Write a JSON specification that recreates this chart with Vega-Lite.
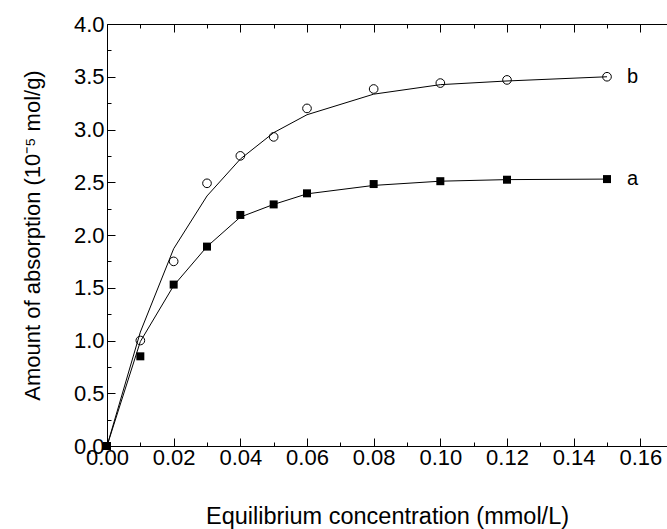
{
  "$schema": "https://vega.github.io/schema/vega-lite/v6.json",
  "width": 560,
  "height": 422,
  "autosize": {"type": "none"},
  "padding": {"left": 107, "top": 24, "right": 0, "bottom": 83},
  "background": "white",
  "config": {
    "view": {"stroke": null},
    "font": "Liberation Sans",
    "axis": {
      "grid": false,
      "domainColor": "black",
      "domainWidth": 1,
      "tickColor": "black",
      "tickWidth": 1,
      "labelColor": "black",
      "labelFont": "Liberation Sans",
      "labelFontSize": 22,
      "titleColor": "black",
      "titleFont": "Liberation Sans",
      "titleFontSize": 22,
      "titleFontWeight": "normal"
    }
  },
  "datasets": {
    "fit": [
      {"series": "a", "c": 0, "q": 0},
      {"series": "a", "c": 0.01, "q": 0.99},
      {"series": "a", "c": 0.02, "q": 1.52},
      {"series": "a", "c": 0.03, "q": 1.89},
      {"series": "a", "c": 0.04, "q": 2.17},
      {"series": "a", "c": 0.05, "q": 2.29},
      {"series": "a", "c": 0.06, "q": 2.39},
      {"series": "a", "c": 0.08, "q": 2.47},
      {"series": "a", "c": 0.1, "q": 2.51},
      {"series": "a", "c": 0.12, "q": 2.525},
      {"series": "a", "c": 0.15, "q": 2.53},
      {"series": "b", "c": 0, "q": 0},
      {"series": "b", "c": 0.01, "q": 1.08},
      {"series": "b", "c": 0.02, "q": 1.87},
      {"series": "b", "c": 0.03, "q": 2.37},
      {"series": "b", "c": 0.04, "q": 2.72},
      {"series": "b", "c": 0.05, "q": 2.97},
      {"series": "b", "c": 0.06, "q": 3.14},
      {"series": "b", "c": 0.08, "q": 3.335},
      {"series": "b", "c": 0.1, "q": 3.425},
      {"series": "b", "c": 0.12, "q": 3.46},
      {"series": "b", "c": 0.15, "q": 3.5}
    ],
    "measured": [
      {"series": "a", "c": 0, "q": 0},
      {"series": "a", "c": 0.01, "q": 0.85},
      {"series": "a", "c": 0.02, "q": 1.53},
      {"series": "a", "c": 0.03, "q": 1.89},
      {"series": "a", "c": 0.04, "q": 2.19},
      {"series": "a", "c": 0.05, "q": 2.29},
      {"series": "a", "c": 0.06, "q": 2.395},
      {"series": "a", "c": 0.08, "q": 2.483},
      {"series": "a", "c": 0.1, "q": 2.51},
      {"series": "a", "c": 0.12, "q": 2.524},
      {"series": "a", "c": 0.15, "q": 2.53},
      {"series": "b", "c": 0.01, "q": 1.0},
      {"series": "b", "c": 0.02, "q": 1.75},
      {"series": "b", "c": 0.03, "q": 2.49},
      {"series": "b", "c": 0.04, "q": 2.75},
      {"series": "b", "c": 0.05, "q": 2.93},
      {"series": "b", "c": 0.06, "q": 3.2},
      {"series": "b", "c": 0.08, "q": 3.384},
      {"series": "b", "c": 0.1, "q": 3.44},
      {"series": "b", "c": 0.12, "q": 3.47},
      {"series": "b", "c": 0.15, "q": 3.5}
    ],
    "tags": [
      {"series": "a", "c": 0.156, "q": 2.53},
      {"series": "b", "c": 0.156, "q": 3.5}
    ]
  },
  "resolve": {"axis": {"x": "independent", "y": "independent"}},
  "layer": [
    {
      "data": {"name": "fit"},
      "mark": {"type": "line", "color": "black", "strokeWidth": 1},
      "encoding": {
        "x": {
          "field": "c", "type": "quantitative",
          "scale": {"domain": [0, 0.168], "nice": false},
          "axis": {
            "orient": "bottom",
            "title": "Equilibrium concentration (mmol/L)",
            "titleFontSize": 23.5,
            "titlePadding": 32,
            "values": [0, 0.01, 0.02, 0.03, 0.04, 0.05, 0.06, 0.07, 0.08, 0.09, 0.1, 0.11, 0.12, 0.13, 0.14, 0.15, 0.16],
            "labelExpr": "round(datum.value*100) % 2 == 0 ? format(datum.value, '.2f') : ''",
            "tickSize": {"condition": {"test": "round(datum.value*100) % 2 == 0", "value": -8}, "value": -4},
            "labelPadding": 9,
            "labelFlush": false,
            "labelOverlap": false
          }
        },
        "y": {
          "field": "q", "type": "quantitative",
          "scale": {"domain": [0, 4], "nice": false},
          "axis": {
            "orient": "left",
            "title": "Amount of absorption (10⁻⁵ mol/g)",
            "titlePadding": 29,
            "values": [0, 0.25, 0.5, 0.75, 1, 1.25, 1.5, 1.75, 2, 2.25, 2.5, 2.75, 3, 3.25, 3.5, 3.75, 4],
            "labelExpr": "round(datum.value*100) % 50 == 0 ? format(datum.value, '.1f') : ''",
            "tickSize": {"condition": {"test": "round(datum.value*100) % 50 == 0", "value": -8}, "value": -4},
            "labelPadding": 11,
            "labelFlush": false,
            "labelOverlap": false
          }
        },
        "detail": {"field": "series"}
      }
    },
    {
      "data": {"name": "measured"},
      "transform": [{"filter": "datum.series == 'b'"}],
      "mark": {"type": "point", "shape": "circle", "filled": false, "color": "black", "strokeWidth": 1, "size": 75, "opacity": 1},
      "encoding": {
        "x": {"field": "c", "type": "quantitative", "scale": {"domain": [0, 0.168], "nice": false}, "axis": null},
        "y": {"field": "q", "type": "quantitative", "scale": {"domain": [0, 4], "nice": false}, "axis": null}
      }
    },
    {
      "data": {"name": "measured"},
      "transform": [{"filter": "datum.series == 'a'"}],
      "mark": {"type": "square", "filled": true, "color": "black", "size": 64, "opacity": 1},
      "encoding": {
        "x": {"field": "c", "type": "quantitative", "scale": {"domain": [0, 0.168], "nice": false}, "axis": null},
        "y": {"field": "q", "type": "quantitative", "scale": {"domain": [0, 4], "nice": false}, "axis": null}
      }
    },
    {
      "data": {"name": "tags"},
      "mark": {"type": "text", "align": "left", "baseline": "middle", "font": "Liberation Sans", "fontSize": 20, "color": "black"},
      "encoding": {
        "x": {"field": "c", "type": "quantitative", "scale": {"domain": [0, 0.168], "nice": false}, "axis": {
          "orient": "top",
          "title": null,
          "values": [0, 0.01, 0.02, 0.03, 0.04, 0.05, 0.06, 0.07, 0.08, 0.09, 0.1, 0.11, 0.12, 0.13, 0.14, 0.15, 0.16],
          "labels": false,
          "tickSize": {"condition": {"test": "round(datum.value*100) % 2 == 0", "value": -8}, "value": -4}
        }},
        "y": {"field": "q", "type": "quantitative", "scale": {"domain": [0, 4], "nice": false}, "axis": null},
        "text": {"field": "series"}
      }
    }
  ]
}
